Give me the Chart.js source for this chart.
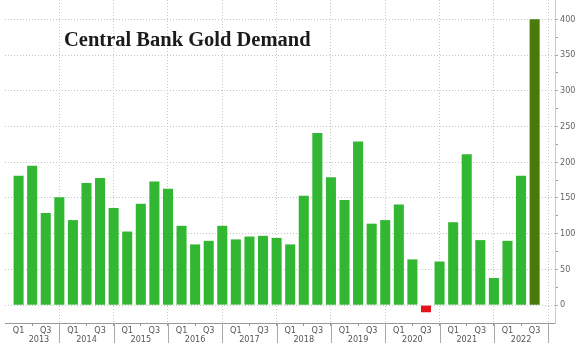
<!DOCTYPE html>
<html>
<head>
<meta charset="utf-8">
<script src="https://cdn.jsdelivr.net/npm/chart.js@4.4.1/dist/chart.umd.min.js"></script>
<style>
    html, body { margin: 0; padding: 0; background: #fff; }
    .chart-wrap { position: relative; width: 586px; height: 350px; }
</style>
</head>
<body>
<div class="chart-wrap"><canvas id="goldChart"></canvas></div>
<script>
const chartTitle = 'Central Bank Gold Demand';
const years = [ '2013', '2014', '2015', '2016', '2017', '2018', '2019', '2020', '2021', '2022' ];
const quarters = [ 'Q1', 'Q2', 'Q3', 'Q4' ];
// 분기별 중앙은행 금 수요 (톤), 2013 Q1 ~ 2022 Q3
const demand = [
    181, 195, 129, 151,
    119, 171, 178, 136,
    103, 142, 173, 163,
    111,  85,  90, 111,
     92,  96,  97,  94,
     85, 153, 241, 179,
    147, 229, 114, 119,
    141,  64, -10,  61,
    116, 211,  91,  38,
     90, 181, 400
];
const yTicks = [ 0, 50, 100, 150, 200, 250, 300, 350, 400 ];

const axisFont = { family : "'Liberation Sans Narrow', 'DejaVu Sans Condensed', sans-serif", size : 9 };
const gridColor = '#c4c4c4';
const clear = 'rgba(0,0,0,0)';
const slotCount = years.length * quarters.length;

// 연도 구분선 (축 아래로 라벨 영역까지)
const yearDividers = {
    id : 'yearDividers',
    afterDraw(chart) {
        const { ctx, scales } = chart;
        const x = scales.x, x2 = scales.x2;
        ctx.save();
        ctx.strokeStyle = '#a8a8a8';
        ctx.lineWidth = 1;
        for (let i = quarters.length - 1; i < slotCount; i += quarters.length) {
            const px = Math.round(x.getPixelForValue(i)) + 0.5;
            ctx.beginPath();
            ctx.moveTo(px, x.top);
            ctx.lineTo(px, x2.top + 8);
            ctx.stroke();
        }
        ctx.restore();
    }
};

// 차트 영역 안쪽 제목
const innerTitle = {
    id : 'innerTitle',
    afterDatasetsDraw(chart) {
        const { ctx, chartArea } = chart;
        ctx.save();
        ctx.font = "bold 20.5px 'Liberation Serif', serif";
        ctx.fillStyle = '#1b1b1b';
        ctx.textBaseline = 'alphabetic';
        ctx.fillText(chartTitle, chartArea.left + 59, 46);
        ctx.restore();
    }
};

document.addEventListener('DOMContentLoaded', function() {
    const chartCtx = document.getElementById('goldChart').getContext('2d');
    new Chart(chartCtx, {
        type : 'bar',
        data : {
            datasets : [ {
                data : demand.map((v, i) => ({ x : i, y : v })),
                backgroundColor : (c) => {
                    if (!c.raw) return '#32b732';
                    if (c.raw.y < 0) return '#e3121b';
                    if (c.dataIndex === demand.length - 1) return '#4b7a0c';
                    return '#32b732';
                },
                borderWidth : 0,
                barPercentage : 0.74,
                categoryPercentage : 1
            } ]
        },
        options : {
            responsive : true,
            maintainAspectRatio : false,
            animation : false,
            layout : {
                padding : { left : 5, top : 0, right : 0, bottom : 3 }
            },
            plugins : {
                legend : { display : false },
                tooltip : { enabled : false }
            },
            scales : {
                x : {
                    type : 'linear',
                    position : 'bottom',
                    weight : 0,
                    offset : false,
                    min : -1,
                    max : slotCount - 0.5,
                    afterBuildTicks : (scale) => {
                        scale.ticks = [];
                        for (let i = 0; i < slotCount; i++) scale.ticks.push({ value : i });
                    },
                    ticks : {
                        autoSkip : false,
                        maxRotation : 0,
                        padding : -1,
                        font : axisFont,
                        color : '#555',
                        callback : (v) => {
                            const q = quarters[v % 4];
                            return (q === 'Q1' || q === 'Q3') ? q : '';
                        }
                    },
                    grid : {
                        offset : false,
                        color : (c) => (c.tick && c.tick.value % 4 === 3) ? gridColor : clear,
                        tickColor : (c) => (c.tick && c.tick.value % 2 === 1) ? '#999' : clear,
                        tickLength : 3
                    },
                    border : { color : '#9a9a9a', dash : [ 1, 2 ] },
                    afterFit : (scale) => {
                        scale.height = 12;
                        scale.paddingLeft = 0;
                        scale.paddingRight = 0;
                    }
                },
                x2 : {
                    type : 'linear',
                    position : 'bottom',
                    weight : 1,
                    offset : false,
                    min : -1,
                    max : slotCount - 0.5,
                    // 연도 라벨은 각 연도의 2분기 아래
                    afterBuildTicks : (scale) => {
                        scale.ticks = years.map((y, i) => ({ value : i * 4 + (i === 0 ? 1.5 : 1) }));
                    },
                    ticks : {
                        autoSkip : false,
                        maxRotation : 0,
                        padding : -9,
                        font : axisFont,
                        color : '#555',
                        callback : (v, i) => years[i]
                    },
                    grid : { display : false },
                    border : { display : false },
                    afterFit : (scale) => {
                        scale.height = 12;
                        scale.paddingLeft = 0;
                        scale.paddingRight = 0;
                    }
                },
                y : {
                    position : 'right',
                    min : -25,
                    max : 427,
                    afterBuildTicks : (scale) => {
                        const all = [];
                        yTicks.forEach((v, i) => {
                            all.push({ value : v });
                            if (i < yTicks.length - 1) all.push({ value : (v + yTicks[i + 1]) / 2 });
                        });
                        scale.ticks = all;
                    },
                    ticks : {
                        autoSkip : false,
                        padding : 2,
                        font : axisFont,
                        color : '#666',
                        callback : (v) => yTicks.includes(v) ? v : ''
                    },
                    grid : {
                        color : (c) => (c.tick && yTicks.includes(c.tick.value)) ? gridColor : clear,
                        tickColor : '#a0a0a0',
                        tickLength : 3
                    },
                    border : { color : '#c3d4bd', dash : [ 1, 2 ] },
                    afterFit : (scale) => {
                        scale.width = 31;
                        scale.paddingTop = 0;
                        scale.paddingBottom = 0;
                    }
                }
            }
        },
        plugins : [ yearDividers, innerTitle ]
    });
});
</script>
</body>
</html>
